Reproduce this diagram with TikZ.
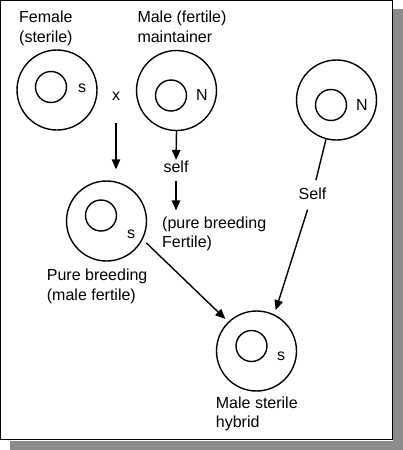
\documentclass[tikz,border=0pt]{standalone}
\usepackage{fontspec}
\setmainfont{Liberation Sans}
\usetikzlibrary{arrows.meta}
\tikzset{
  lbl/.style={inner sep=0pt, font=\fontsize{16}{19.5}\selectfont},
  mlbl/.style={lbl, align=left, anchor=north west},
  cellout/.style={circle, draw, line width=1.4pt, minimum size=80pt, inner sep=0pt},
  cellin/.style={circle, draw, line width=1.4pt, minimum size=31pt, inner sep=0pt},
  arr/.style={line width=1.4pt, -{Triangle[length=10pt,width=8.5pt]}},
  plainline/.style={line width=1.4pt},
}
\begin{document}
\begin{tikzpicture}[x=1pt,y=-1pt]
\useasboundingbox (0,0) rectangle (403,450);
% shadow and frame
\fill[black!45] (393,9) rectangle (403,450);
\fill[black!45] (10,440.5) rectangle (403,450);
\fill[white] (1,1) rectangle (392.5,439.5);
\draw[line width=1.4pt] (0.7,0.7) rectangle (392.5,439.5);
% cells
\node[cellout] (fem) at (57,90) {};
\node[cellin] (femin) at (51,87) {};
\node[lbl] (fems) at (82,88) {s};
\node[cellout] (mal) at (176.5,90.5) {};
\node[cellin] (malin) at (171,95.5) {};
\node[lbl] (malN) at (202,95) {N};
\node[cellout] (rN) at (336.5,100) {};
\node[cellin] (rNin) at (331,105) {};
\node[lbl] (rNN) at (362,105) {N};
\node[cellout] (pb) at (106.5,221) {};
\node[cellin] (pbin) at (101,215.5) {};
\node[lbl] (pbs) at (131,234) {s};
\node[cellout] (hyb) at (256.5,351) {};
\node[cellin] (hybin) at (251.5,346) {};
\node[lbl] (hybs) at (281,356) {s};
% labels
\node[mlbl] (femt) at (19,11.2) {Female\\(sterile)};
\node[mlbl] (malt) at (137.3,11.2) {Male (fertile)\\maintainer};
\node[lbl] (xl) at (116,96) {x};
\node[lbl] (selfM) at (176,167) {self};
\node[mlbl] (pbf) at (162,216.4) {(pure breeding\\Fertile)};
\node[lbl] (selfR) at (312.5,194) {Self};
\node[mlbl] (pbt) at (46.7,269) {Pure breeding\\(male fertile)};
\node[mlbl] (hybt) at (215.7,396.4) {Male sterile\\hybrid};
% connectors
\draw[arr, shorten <=23pt, shorten >=11pt] (xl) -- (xl |- pb.north);
\draw[arr, shorten >=1pt] (mal.south) -- (selfM.north);
\draw[arr, shorten <=8pt, shorten >=6pt] (selfM.south) -- (selfM.south |- pbf.north);
\draw[arr, shorten <=5pt, shorten >=4pt] (pb.-27) -- (hyb.134);
\draw[plainline, shorten >=8pt] (rN.255) -- (selfR);
\draw[arr, shorten <=10pt, shorten >=4.5pt] (selfR) -- (hyb.64);
\end{tikzpicture}
\end{document}
